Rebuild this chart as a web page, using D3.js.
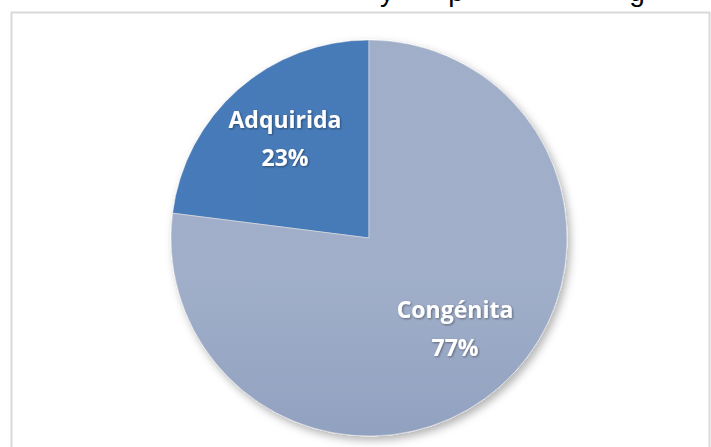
<!DOCTYPE html>
<html>
<head>
<meta charset="utf-8">
<script src="https://cdn.jsdelivr.net/npm/d3@7"></script>
<style>
  body { margin: 0; background: #fff; }
  svg { display: block; }
</style>
</head>
<body>
<div id="chart"></div>
<script>
const categories = ['Adquirida', 'Congénita'];
const values = [23, 77];
const labels = ['23%', '77%'];
// cut-off title glyphs visible at the top edge
const titleGlyphs = ['y', 'p', 'g'];

const width = 711, height = 447;
const cx = 369, cy = 238, radius = 198;

const svg = d3.select('#chart')
  .append('svg')
  .attr('width', width)
  .attr('height', height);

const defs = svg.append('defs');

// vertical gradients for each slice
const grads = [
  { id: 'gA', stops: ['#4f8bd2', '#3c78c1', '#2f66ad'] },
  { id: 'gC', stops: ['#b6c6e4', '#a0b3d7', '#8799c1'] }
];
grads.forEach((g) => {
  let lg = defs.append('linearGradient')
    .attr('id', g.id)
    .attr('gradientUnits', 'userSpaceOnUse')
    .attr('x1', 0).attr('y1', cy - radius)
    .attr('x2', 0).attr('y2', cy + radius);
  lg.append('stop').attr('offset', '0%').attr('stop-color', g.stops[0]);
  lg.append('stop').attr('offset', '50%').attr('stop-color', g.stops[1]);
  lg.append('stop').attr('offset', '100%').attr('stop-color', g.stops[2]);
});

// soft rim darkening
const rim = defs.append('radialGradient')
  .attr('id', 'rim')
  .attr('gradientUnits', 'userSpaceOnUse')
  .attr('cx', cx).attr('cy', cy).attr('r', radius);
rim.append('stop').attr('offset', '88%').attr('stop-color', '#000').attr('stop-opacity', 0);
rim.append('stop').attr('offset', '100%').attr('stop-color', '#000').attr('stop-opacity', 0.12);

const shadow = defs.append('filter').attr('id', 'shadow')
  .attr('x', '-20%').attr('y', '-20%').attr('width', '140%').attr('height', '140%');
shadow.append('feDropShadow')
  .attr('dx', 3).attr('dy', 4).attr('stdDeviation', 4)
  .attr('flood-color', '#000').attr('flood-opacity', 0.3);

const txtShadow = defs.append('filter').attr('id', 'txtShadow');
txtShadow.append('feDropShadow')
  .attr('dx', 1).attr('dy', 1).attr('stdDeviation', 0.8)
  .attr('flood-color', '#000').attr('flood-opacity', 0.4);

// chart area border
svg.append('rect')
  .attr('x', 11.5).attr('y', 12.5)
  .attr('width', 698).attr('height', 450)
  .attr('fill', '#fff')
  .attr('stroke', '#d9d9d9')
  .attr('stroke-width', 2);

// title, mostly cut off above the frame
const titleX = [387, 456, 637];
svg.append('g')
  .selectAll('text')
  .data(titleGlyphs)
  .enter()
  .append('text')
  .attr('x', (d, i) => titleX[i])
  .attr('y', 1)
  .attr('text-anchor', 'middle')
  .attr('font-family', 'Liberation Sans, Arial, sans-serif')
  .attr('font-size', 28)
  .attr('fill', '#000')
  .text((d) => d);

const data = categories.map((c, i) => ({ name: c, value: values[i], label: labels[i] }));

// Adquirida runs counterclockwise from 12 o'clock
const pie = d3.pie()
  .value((d) => d.value)
  .sort(null)
  .startAngle(-2 * Math.PI * values[0] / 100)
  .endAngle(2 * Math.PI - 2 * Math.PI * values[0] / 100);

const arc = d3.arc().innerRadius(0).outerRadius(radius);
const arcs = pie(data);

const slices = svg.append('g').attr('filter', 'url(#shadow)');

slices.selectAll('path.slice')
  .data(arcs)
  .enter()
  .append('path')
  .attr('class', 'slice')
  .attr('d', arc)
  .attr('transform', `translate(${cx}, ${cy})`)
  .attr('fill', (d, i) => `url(#${grads[i].id})`)
  .attr('stroke', 'rgba(255,255,255,0.6)')
  .attr('stroke-width', 1);

slices.selectAll('path.rim')
  .data(arcs)
  .enter()
  .append('path')
  .attr('class', 'rim')
  .attr('d', arc)
  .attr('transform', `translate(${cx}, ${cy})`)
  .attr('fill', 'url(#rim)');

// label positions
const labelPos = [
  { x: 285, y: 128 },
  { x: 455, y: 318 }
];

const lg = svg.append('g').attr('filter', 'url(#txtShadow)');
data.forEach((d, i) => {
  let t = lg.append('text')
    .attr('text-anchor', 'middle')
    .attr('font-family', 'Open Sans, sans-serif')
    .attr('font-weight', 'bold')
    .attr('font-size', 23)
    .attr('fill', '#fff');
  t.append('tspan').attr('x', labelPos[i].x).attr('y', labelPos[i].y).text(d.name);
  t.append('tspan').attr('x', labelPos[i].x).attr('y', labelPos[i].y + 38).text(d.label);
});
</script>
</body>
</html>
